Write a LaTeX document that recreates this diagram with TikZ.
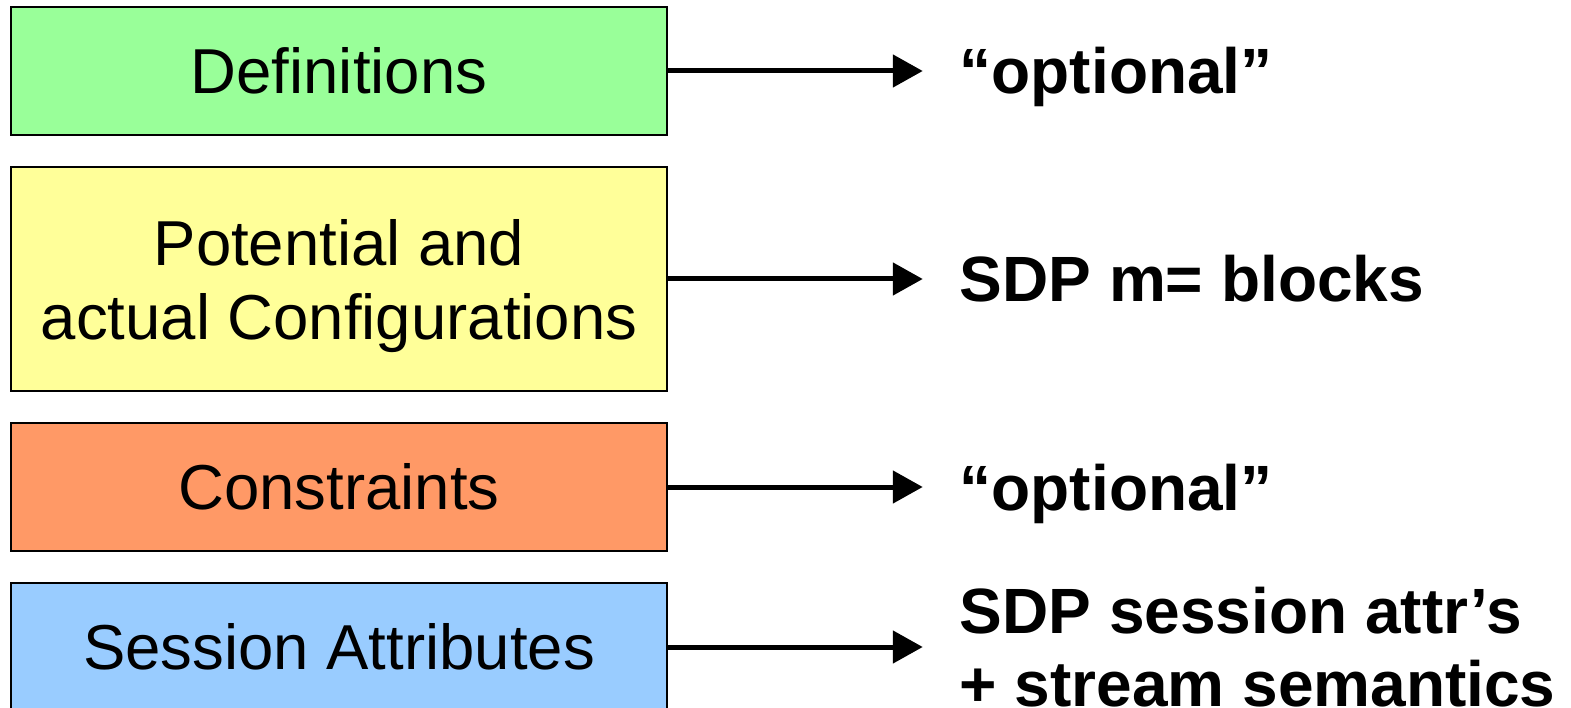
\documentclass[tikz,border=0pt]{standalone}
\usepackage{fontspec}
\setmainfont{Liberation Sans}
\usetikzlibrary{positioning,arrows.meta}
\definecolor{defgreen}{HTML}{99FF99}
\definecolor{confyellow}{HTML}{FFFF99}
\definecolor{consorange}{HTML}{FF9966}
\definecolor{sessblue}{HTML}{99CCFF}
\tikzset{
  box/.style={draw, line width=1.5pt, minimum width=656pt, minimum height=128pt,
    inner sep=0pt, align=center, font=\fontsize{63.5pt}{74pt}\selectfont},
  note/.style={inner sep=0pt, outer sep=0pt, align=left,
    font=\fontsize{64pt}{73pt}\selectfont\bfseries},
  one/.style={text height=46pt, text depth=0pt},
  arr/.style={line width=5pt, -{Triangle[length=30pt,width=32pt]}, shorten >=37pt}
}
\begin{document}
\begin{tikzpicture}[x=1pt,y=-1pt]
\useasboundingbox (0,0) rectangle (1571,708);
\node[box, fill=defgreen] (def) at (339,71) {Definitions};
\node[box, fill=confyellow, minimum height=224pt, text depth=0pt, below=30.5pt of def] (conf) {Potential and\\actual Configurations};
\node[box, fill=consorange, below=30.5pt of conf] (cons) {Constraints};
\node[box, fill=sessblue, below=30.5pt of cons] (sess) {Session Attributes};
\node[note, one, right=292pt of def] (defl) {“optional”};
\node[note, one, right=292pt of conf] (confl) {SDP m= blocks};
\node[note, one, right=292pt of cons] (consl) {“optional”};
\node[note, right=292pt of sess] (sessl) {SDP session attr’s\\+ stream semantics};
\draw[arr] (def) -- (def -| defl.west);
\draw[arr] (conf) -- (conf -| confl.west);
\draw[arr] (cons) -- (cons -| consl.west);
\draw[arr] (sess) -- (sess -| sessl.west);
\end{tikzpicture}
\end{document}
